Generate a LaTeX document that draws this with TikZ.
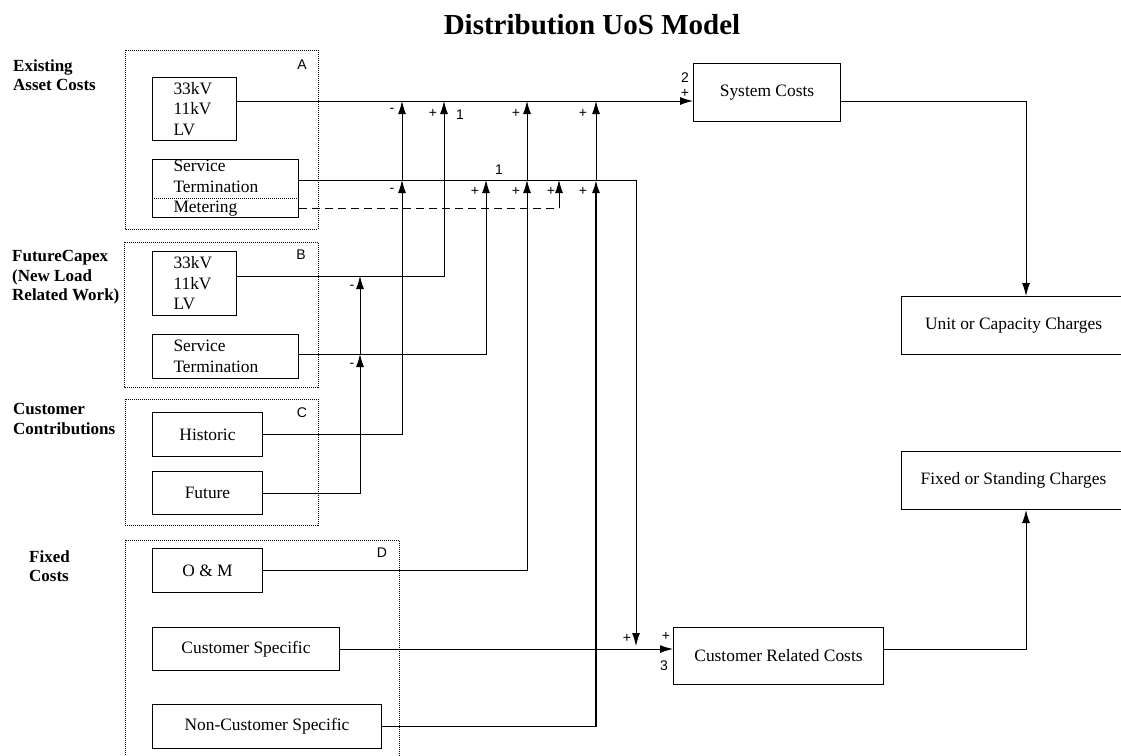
\documentclass[tikz,border=0pt]{standalone}
\usepackage{fontspec}
\setmainfont{Liberation Serif}
\newfontfamily\labelfont{Liberation Sans}
\usepackage{tikz}
\usetikzlibrary{arrows.meta}

\begin{document}
\begin{tikzpicture}[x=1pt,y=-1pt,
		grp/.style={draw, line width=0.8pt, dash pattern=on 1pt off 1pt},
		blk/.style={draw, line width=1pt, anchor=north west, inner sep=0pt,
			font=\fontsize{17.4}{20.5}\selectfont},
		lblk/.style={blk, align=left, inner xsep=21pt},
		hdr/.style={anchor=north west, align=left, inner sep=0pt,
			font=\fontsize{17}{19.5}\selectfont\bfseries},
		tag/.style={inner sep=0pt, font=\labelfont\fontsize{14}{14}\selectfont},
		conn/.style={line width=1pt},
		arr/.style={-{Latex[length=13pt,width=8pt]}}]
		\useasboundingbox (0,0) rectangle (1121,755);
		\node[anchor=base, font=\fontsize{29}{29}\selectfont\bfseries] (title) at (592,34) {Distribution UoS Model};

		\node[hdr] (ex) at (13,59.4) {Existing\\Asset Costs};
		\node[hdr] (fc) at (12,250.5) {FutureCapex\\(New Load\\Related Work)};
		\node[hdr] (cc) at (13,403.4) {Customer\\Contributions};
		\node[hdr] (fx) at (29,550.4) {Fixed\\Costs};

		\draw[grp] (125,50) rectangle (318,229);
		\draw[grp] (124,242) rectangle (318,387);
		\draw[grp] (125,399) rectangle (318,525);
		\draw[grp] (125,540) rectangle (399,775);
		\node[tag] (ga) at (302,65) {A};
		\node[tag] (gb) at (301,255) {B};
		\node[tag] (gc) at (302,413) {C};
		\node[tag] (gd) at (382,553) {D};

		\node[lblk, text width=42pt, minimum height=63pt] (a-hv) at (152,77) {33kV\\11kV\\LV};
		\node[lblk, text width=104pt, minimum height=58pt] (a-st) at (152,159) {Service\\Termination\\Metering};
		\draw[grp] (a-st.west |- 0,198) -- (a-st.east |- 0,198);
		\node[lblk, text width=42pt, minimum height=64pt] (b-hv) at (152,251) {33kV\\11kV\\LV};
		\node[lblk, text width=104pt, minimum height=44pt] (b-st) at (152,334) {Service\\Termination};
		\node[blk, minimum width=110pt, minimum height=44pt] (hist) at (152,412) {Historic};
		\node[blk, minimum width=110pt, minimum height=43pt] (fut) at (152,471) {Future};
		\node[blk, minimum width=110pt, minimum height=44pt] (om) at (152,548) {O \& M};
		\node[blk, minimum width=187pt, minimum height=43pt] (cs) at (152,627) {Customer Specific};
		\node[blk, minimum width=229pt, minimum height=44pt] (ncs) at (152,704) {Non-Customer Specific};

		\node[blk, minimum width=147pt, minimum height=58pt] (sys) at (693,63) {System Costs};
		\node[blk, minimum width=210pt, minimum height=57pt] (crc) at (673,627) {Customer Related Costs};
		\node[blk, minimum width=224pt, minimum height=58pt] (ucc) at (901,296) {Unit or Capacity Charges};
		\node[blk, minimum width=224pt, minimum height=58pt] (fsc) at (901,451) {Fixed or Standing Charges};

		\coordinate (t1) at (402,101);
		\coordinate (m1) at (402,180);
		\coordinate (t2) at (444,101);
		\coordinate (m3) at (486,180);
		\coordinate (t4) at (527,101);
		\coordinate (m4) at (527,180);
		\coordinate (mt) at (559,208);
		\coordinate (m5) at (559,180);
		\coordinate (t6) at (596,101);
		\coordinate (m6) at (596,180);
		\coordinate (bh) at (360,276);
		\coordinate (bs) at (360,354);
		\coordinate (dn) at (636,646);
		\coordinate (rt) at (1026,0);

		\draw[conn, arr] (a-hv.east |- t1) -- (sys.west |- t1);
		\draw[conn, arr] (a-st.east |- m1) -| (dn);
		\draw[conn, dash pattern=on 8pt off 5pt] (a-st.east |- mt) -- (mt);
		\draw[conn, arr] (mt) -- (m5);
		\draw[conn, arr] (hist.east) -| (m1);
		\draw[conn, arr] (m1) -- (t1);
		\draw[conn, arr] (b-hv.east |- bh) -| (t2);
		\draw[conn, arr] (b-st.east |- bs) -| (m3);
		\draw[conn, arr] (fut.east) -| (bs);
		\draw[conn, arr] (bs) -- (bh);
		\draw[conn, arr] (om.east) -| (m4);
		\draw[conn, arr] (m4) -- (t4);
		\draw[conn, arr, line width=1.8pt] (ncs.east) -| (m6);
		\draw[conn, arr] (m6) -- (t6);
		\draw[conn, arr] (cs.east) -- (crc.west |- cs.east);
		\draw[conn, arr] (sys.east |- t1) -| (ucc.north -| rt);
		\draw[conn, arr] (crc.east |- cs.east) -| (fsc.south -| rt);

		\foreach \x/\y/\s [count=\i] in {685/78/2, 685/93/+, 392/110/-, 433/113/+, 460/115/1,
				516/113/+, 583/113/+, 499/170/1, 392/190/-, 475/191/+, 516/191/+, 551/191/+,
				583/191/+, 352/287/-, 352/365/-, 627/638/+, 666/636/+, 664/666/3}
			\node[tag] (s\i) at (\x,\y) {\s};
	\end{tikzpicture}
\end{document}
